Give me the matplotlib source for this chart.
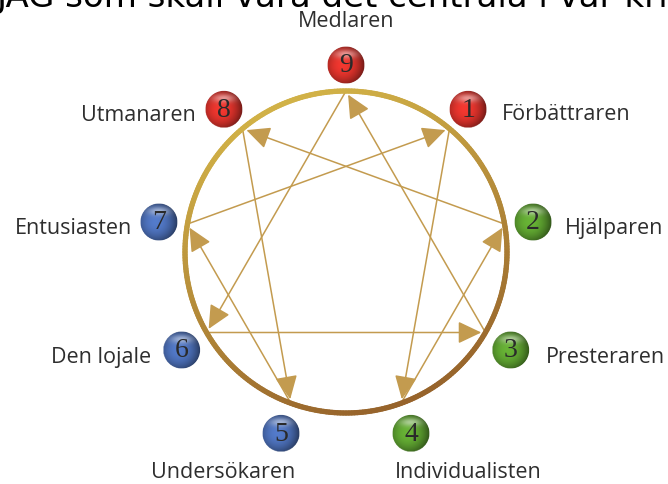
import numpy as np
import matplotlib
matplotlib.use("Agg")
import matplotlib.pyplot as plt
from matplotlib.patches import Circle
from matplotlib.collections import LineCollection
from matplotlib.colors import to_rgb

# --- data ---
type_numbers = [1, 2, 3, 4, 5, 6, 7, 8, 9]
type_names = ["Förbättraren", "Hjälparen", "Presteraren", "Individualisten",
              "Undersökaren", "Den lojale", "Entusiasten", "Utmanaren", "Medlaren"]
centre_group = ["red", "green", "green", "green", "blue", "blue", "blue", "red", "red"]
# stress arrows (from -> to)
hexad_arrows = [(1, 4), (4, 2), (2, 8), (8, 5), (5, 7), (7, 1)]
triad_arrows = [(9, 6), (6, 3), (3, 9)]
title_text = "JAG som skall vara det centrala i vår kristna tro"

# --- style / layout ---
W, H, DPI = 668, 484, 100
CX, CY, R = 346, 252, 161          # ring centre and radius in pixels
BALL_DIST = 1.18                   # ball distance from centre (ring radii)
BALL_DROP = 3 / R                  # balls sit slightly lower than the ring
BALL_R = 0.116
group_colors = {"red": "#d8312a", "green": "#5c9f2f", "blue": "#4a6db4"}
# label offset from ball (pixels) and alignment
label_layout = {
    1: (34, 5, "left"), 2: (32, 6, "left"), 3: (35, 8, "left"),
    4: (57, 39, "center"), 5: (-58, 39, "center"), 6: (-30, 8, "right"),
    7: (-27, 6, "right"), 8: (-28, 6, "right"), 9: (0, -44, "center"),
}


def angle_of(n):
    return np.deg2rad(90 - 40 * (n % 9))


def point(n, dist=1.0):
    a = angle_of(n)
    return dist * np.cos(a), dist * np.sin(a)


def ball_pos(n):
    x, y = point(n, BALL_DIST)
    return x, y - BALL_DROP


fig = plt.figure(figsize=(W / DPI, H / DPI), dpi=DPI)
ax = fig.add_axes([0, 0, 1, 1])
ax.set_xlim(-CX / R, (W - CX) / R)
ax.set_ylim(-(H - CY) / R, CY / R)
ax.axis("off")

# ring with gold -> brown gradient
t = np.linspace(0, 2 * np.pi, 361)
xs, ys = np.cos(t), np.sin(t)
segs = np.stack([np.column_stack([xs[:-1], ys[:-1]]),
                 np.column_stack([xs[1:], ys[1:]])], axis=1)
gold, brown = np.array(to_rgb("#d4b548")), np.array(to_rgb("#94602a"))
mid_x, mid_y = (xs[:-1] + xs[1:]) / 2, (ys[:-1] + ys[1:]) / 2
w = np.clip((1 - (0.85 * mid_y - 0.35 * mid_x)) / 2, 0, 1)
ring_cols = gold[None, :] * (1 - w[:, None]) + brown[None, :] * w[:, None]
ax.add_collection(LineCollection(segs, colors=ring_cols, linewidth=3.8,
                                 capstyle="round", zorder=3))

# inner lines with arrowheads
for a, b in hexad_arrows + triad_arrows:
    ax.annotate("", xy=point(b), xytext=point(a),
                arrowprops=dict(arrowstyle="-|>,head_length=0.8,head_width=0.38",
                                color="#c39b4f", lw=1.1, shrinkA=0, shrinkB=3,
                                mutation_scale=18),
                zorder=2)

# glossy balls
g = np.linspace(-1, 1, 80)
U, V = np.meshgrid(g, g)
D = np.sqrt(U ** 2 + V ** 2)
for n, grp in zip(type_numbers, centre_group):
    bx, by = ball_pos(n)
    base = np.array(to_rgb(group_colors[grp]))
    shade = 1.12 - 0.45 * D ** 2 - 0.15 * U
    img = np.clip(base[None, None, :] * shade[..., None], 0, 1)
    hl = np.exp(-(U ** 2 / 0.35 + (V - 0.58) ** 2 / 0.05))
    img = img * (1 - 0.5 * hl[..., None]) + 0.5 * hl[..., None]
    alpha = (D <= 1).astype(float)
    rgba = np.dstack([img, alpha])
    im = ax.imshow(rgba, extent=[bx - BALL_R, bx + BALL_R, by - BALL_R, by + BALL_R],
                   origin="lower", zorder=4, interpolation="bilinear")
    im.set_clip_path(Circle((bx, by), BALL_R, transform=ax.transData))
    ax.text(bx, by - 0.005, str(n), ha="center", va="center", fontsize=20,
            family="Liberation Serif", color="#2a2a2a", zorder=5)

# labels
for n, name in zip(type_numbers, type_names):
    bx, by = ball_pos(n)
    dx, dy, ha = label_layout[n]
    ax.text(bx + dx / R, by - dy / R, name, ha=ha, va="center", fontsize=15.5,
            family="Open Sans", color="#2e2e2e", zorder=5)

ax.set_aspect("equal")

# cut-off heading at the very top
fig.text(-3 / W, 1 - 7 / H, title_text, ha="left", va="baseline",
         fontsize=24.5, family="DejaVu Sans", color="black")

fig.savefig("out.png", dpi=DPI)
